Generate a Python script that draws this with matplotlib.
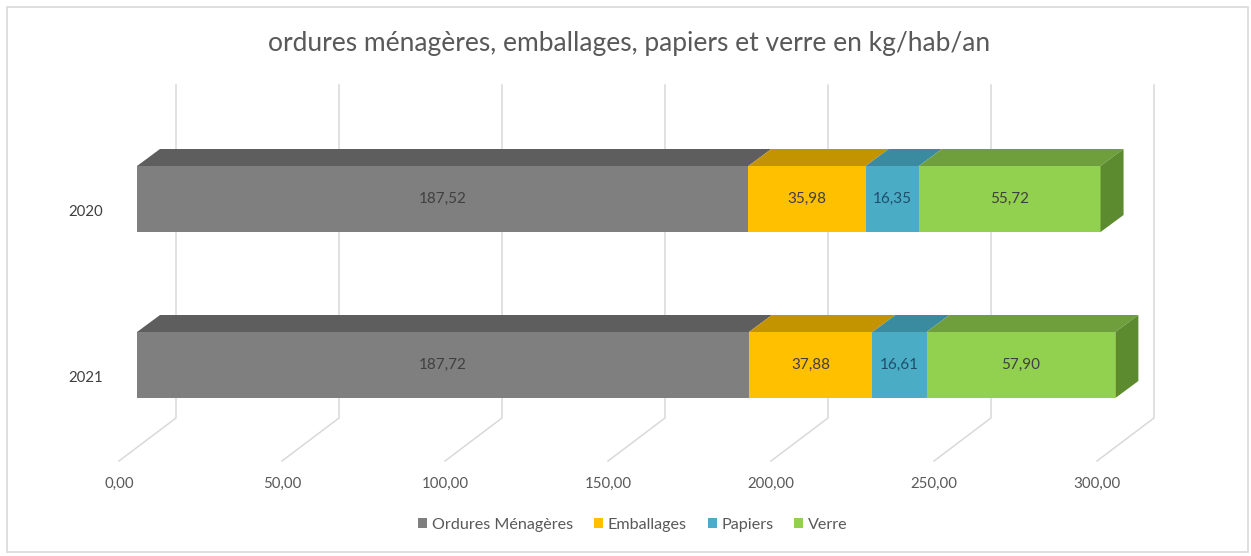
import matplotlib
matplotlib.use("Agg")
import matplotlib.pyplot as plt
from matplotlib.patches import Polygon, Rectangle, Patch

years = ["2020", "2021"]
categories = ["Ordures Ménagères", "Emballages", "Papiers", "Verre"]
ordures = [187.52, 187.72]
emballages = [35.98, 37.88]
papiers = [16.35, 16.61]
verre = [55.72, 57.90]
x_ticks = [0, 50, 100, 150, 200, 250, 300]

front_colors = ["#7f7f7f", "#ffc000", "#4bacc6", "#92d050"]
top_colors = ["#5e5e5e", "#c49300", "#3a8aa0", "#6f9f3c"]
side_color = "#5c8a2e"
label_colors = ["#404040", "#404040", "#1f4e6b", "#404040"]

W, H = 1251, 556
PX_PER_UNIT = 3.26      # horizontal pixels per kg on the front plane
X0_PX = 137             # pixel column of value 0 on the bar front
ROW_PX = 166            # pixel distance between the two bars
ROW0_PX = 199           # pixel row (from top) of the first bar centre


def fmt(v):
    return f"{v:.2f}".replace(".", ",")


def py(p):
    """Pixel row from top -> data y (categories, inverted)."""
    return (p - ROW0_PX) / ROW_PX


def px(p):
    """Pixel column -> data x."""
    return (p - X0_PX) / PX_PER_UNIT


fig = plt.figure(figsize=(W / 100, H / 100), dpi=100)
plt.rcParams["font.family"] = ["Lato", "DejaVu Sans"]
ax = fig.add_axes([0, 0, 1, 1])
ax.set_xlim(px(0), px(W))
ax.set_ylim(py(H), py(0))
ax.axis("off")

# outer chart border
fig.patches.append(Rectangle((7 / W, 4 / H), 1241 / W, 545 / H, transform=fig.transFigure,
                             fill=False, edgecolor="#d9d9d9", lw=1.2))

# wall gridlines with their floor diagonals
wall_dx = px(176)
floor_dx = px(119)
for v in x_ticks:
    ax.plot([v + wall_dx, v + wall_dx, v + floor_dx], [py(85), py(418), py(461)],
            color="#d9d9d9", lw=1.1, zorder=1, solid_joinstyle="miter")
    ax.text(v + floor_dx, py(484), fmt(v), ha="center", va="center",
            fontsize=10.8, color="#595959")

# 3D-looking stacked bars
series = [ordures, emballages, papiers, verre]
half = 33 / ROW_PX
dx = 23 / PX_PER_UNIT
dy = 17 / ROW_PX
for i, year in enumerate(years):
    left = 0.0
    yt, yb = i - half, i + half
    for k, vals in enumerate(series):
        v = vals[i]
        right = left + v
        ax.add_patch(Rectangle((left, yt), v, 2 * half, facecolor=front_colors[k],
                               edgecolor="none", zorder=3))
        ax.add_patch(Polygon([(left, yt), (right, yt), (right + dx, yt - dy), (left + dx, yt - dy)],
                             closed=True, facecolor=top_colors[k], edgecolor="none", zorder=3))
        ax.text((left + right) / 2, i, fmt(v), ha="center", va="center",
                fontsize=11, color=label_colors[k], zorder=5)
        left = right
    ax.add_patch(Polygon([(left, yt), (left, yb), (left + dx, yb - dy), (left + dx, yt - dy)],
                         closed=True, facecolor=side_color, edgecolor="none", zorder=3))
    ax.text(px(103), i + py(212) - py(199), year, ha="right", va="center",
            fontsize=10.8, color="#404040")

fig.text(0.503, 1 - 43 / H, "ordures ménagères, emballages, papiers et verre en kg/hab/an",
         ha="center", va="center", fontsize=19, color="#595959")

handles = [Patch(facecolor=c, edgecolor="none") for c in front_colors]
fig.legend(handles, categories, loc="center", bbox_to_anchor=(0.506, 31 / H), ncol=4,
           frameon=False, fontsize=11.6, handlelength=0.55, handleheight=0.55,
           handletextpad=0.3, columnspacing=1.3, labelcolor="#595959")

fig.savefig("out.png", dpi=100)
